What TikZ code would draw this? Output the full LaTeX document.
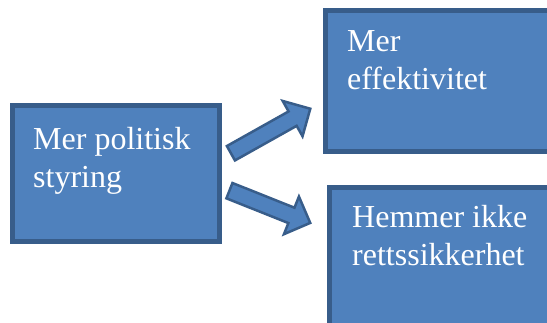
\documentclass[tikz,border=0pt]{standalone}
\usepackage{fontspec}
\setmainfont{Liberation Serif}
\usetikzlibrary{shapes.arrows}
\definecolor{boxfill}{HTML}{4F81BD}
\definecolor{boxline}{HTML}{385D8A}
\begin{document}
\begin{tikzpicture}[x=1pt, y=-1pt,
		box/.style={draw=boxline, fill=boxfill, line width=5pt, inner sep=0pt},
		boxtext/.style={text=white, align=left, inner sep=0pt, anchor=base west, font=\fontsize{32}{38}\selectfont},
		blockarrow/.style={single arrow, draw=boxline, fill=boxfill, line width=2.5pt, inner xsep=0pt, inner ysep=7pt,
			single arrow head extend=12pt, single arrow head indent=0pt}]
		\useasboundingbox (0,0) rectangle (547,322);
		\clip (0,0) rectangle (547,322);

		% Boxes
		\node[box, minimum width=207pt, minimum height=136pt] (politisk) at (116,173.5) {};
		\node[box, minimum width=240pt, minimum height=141.5pt] (effekt) at (445.5,80.75) {};
		\node[box, minimum width=240pt, minimum height=141.5pt] (rettssikkerhet) at (449.5,257.75) {};

		% Texts
		\node[boxtext] (politiskText) at (33,187) {Mer politisk\\styring};
		\node[boxtext] (effektText) at (347,89) {Mer\\effektivitet};
		\node[boxtext] (rettssikkerhetText) at (352,265) {Hemmer ikke\\rettssikkerhet};

		% Arrows
		\coordinate (upTail) at (226,156);
		\coordinate (upTip) at (308,110);
		\coordinate (downTail) at (224,188.5);
		\coordinate (downTip) at (308,222);
		\path (upTail) -- node[blockarrow, sloped, minimum height=91pt] (upArrow) {} (upTip);
		\path (downTail) -- node[blockarrow, sloped, minimum height=87pt] (downArrow) {} (downTip);
	\end{tikzpicture}
\end{document}
